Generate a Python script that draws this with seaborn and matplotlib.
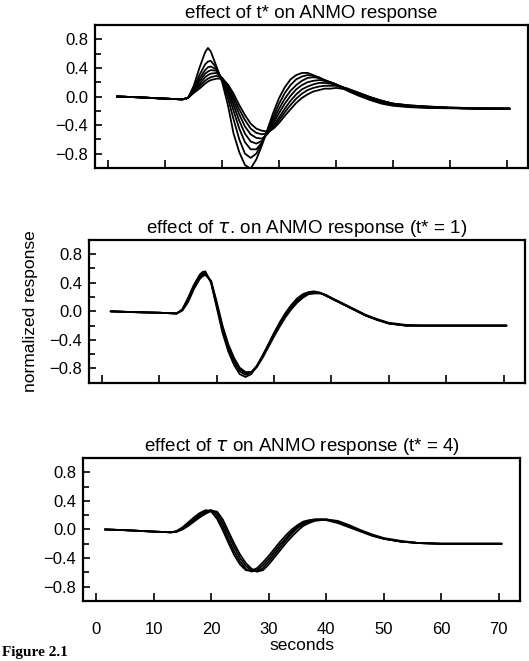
import pandas as pd
import matplotlib
matplotlib.use("Agg")
import matplotlib.pyplot as plt
import seaborn as sns
from matplotlib.ticker import MultipleLocator

# time samples (s) shared by every trace
seconds = [1.5, 5, 10, 13, 14, 15, 16, 17, 17.5, 18, 19, 20, 21, 22, 23, 24, 25, 26, 27, 28, 29, 30,
           31, 32, 33, 34, 35, 36, 37, 38, 39, 40, 42, 44, 46, 48, 50, 53, 56, 60, 65, 70.5]

# panel 1: effect of t*  (sharpest trace first)
tstar_1 = [0.00, -0.01, -0.03, -0.04, -0.02, 0.15, 0.40, 0.62, 0.68, 0.63, 0.42, 0.20, -0.12, -0.52, -0.78,
           -0.96, -1.01, -0.88, -0.68, -0.45, -0.22, -0.02, 0.13, 0.24, 0.30, 0.33, 0.33, 0.30, 0.26, 0.22,
           0.19, 0.16, 0.08, 0.01, -0.05, -0.10, -0.13, -0.15, -0.16, -0.165, -0.17, -0.17]
tstar_2 = [0.00, -0.01, -0.03, -0.04, -0.02, 0.12, 0.30, 0.45, 0.49, 0.50, 0.40, 0.22, -0.02, -0.32, -0.60,
           -0.80, -0.86, -0.80, -0.65, -0.47, -0.28, -0.10, 0.05, 0.16, 0.24, 0.28, 0.30, 0.29, 0.27, 0.23,
           0.20, 0.17, 0.09, 0.02, -0.04, -0.09, -0.12, -0.145, -0.155, -0.16, -0.17, -0.17]
tstar_3 = [0.00, -0.01, -0.03, -0.04, -0.02, 0.10, 0.25, 0.37, 0.41, 0.42, 0.38, 0.23, 0.05, -0.20, -0.45,
           -0.64, -0.74, -0.74, -0.64, -0.49, -0.33, -0.17, -0.03, 0.08, 0.16, 0.22, 0.26, 0.27, 0.26, 0.23,
           0.20, 0.17, 0.10, 0.03, -0.03, -0.08, -0.115, -0.14, -0.15, -0.16, -0.17, -0.17]
tstar_4 = [0.00, -0.01, -0.03, -0.04, -0.02, 0.08, 0.21, 0.32, 0.35, 0.37, 0.36, 0.25, 0.09, -0.12, -0.34,
           -0.52, -0.63, -0.66, -0.62, -0.51, -0.37, -0.23, -0.10, 0.01, 0.10, 0.16, 0.20, 0.22, 0.23, 0.22,
           0.20, 0.17, 0.10, 0.04, -0.02, -0.07, -0.11, -0.135, -0.15, -0.16, -0.17, -0.17]
tstar_5 = [0.00, -0.01, -0.03, -0.04, -0.02, 0.07, 0.17, 0.27, 0.30, 0.32, 0.33, 0.26, 0.12, -0.06, -0.25,
           -0.42, -0.53, -0.58, -0.59, -0.52, -0.41, -0.29, -0.17, -0.06, 0.03, 0.10, 0.14, 0.17, 0.19, 0.19,
           0.18, 0.16, 0.11, 0.05, -0.01, -0.06, -0.10, -0.13, -0.145, -0.16, -0.17, -0.17]
tstar_6 = [0.00, -0.01, -0.03, -0.04, -0.02, 0.06, 0.14, 0.22, 0.25, 0.27, 0.29, 0.26, 0.15, -0.01, -0.18,
           -0.33, -0.45, -0.51, -0.53, -0.51, -0.44, -0.33, -0.22, -0.12, -0.03, 0.04, 0.09, 0.12, 0.14, 0.15,
           0.15, 0.15, 0.11, 0.05, -0.01, -0.06, -0.10, -0.125, -0.14, -0.155, -0.165, -0.17]
tstar_7 = [0.00, -0.01, -0.03, -0.04, -0.02, 0.05, 0.11, 0.18, 0.21, 0.23, 0.25, 0.25, 0.17, 0.04, -0.12,
           -0.26, -0.38, -0.45, -0.48, -0.49, -0.45, -0.37, -0.27, -0.18, -0.09, -0.02, 0.03, 0.07, 0.09, 0.11,
           0.11, 0.12, 0.10, 0.05, -0.01, -0.06, -0.10, -0.125, -0.14, -0.155, -0.165, -0.17]

# panel 2: effect of tau, t* = 1
tau_a = [0.00, -0.01, -0.02, -0.03, 0.03, 0.19, 0.37, 0.51, 0.55, 0.56, 0.40, 0.05, -0.30, -0.56, -0.75,
         -0.88, -0.92, -0.88, -0.77, -0.62, -0.46, -0.30, -0.15, -0.02, 0.09, 0.18, 0.24, 0.27, 0.28, 0.26,
         0.22, 0.18, 0.10, 0.02, -0.06, -0.12, -0.17, -0.20, -0.20, -0.20, -0.20, -0.20]
tau_b = [0.00, -0.01, -0.02, -0.03, 0.02, 0.17, 0.35, 0.49, 0.53, 0.54, 0.41, 0.08, -0.26, -0.52, -0.71,
         -0.84, -0.89, -0.86, -0.76, -0.62, -0.47, -0.31, -0.17, -0.04, 0.07, 0.16, 0.22, 0.26, 0.27, 0.26,
         0.22, 0.18, 0.10, 0.02, -0.06, -0.12, -0.17, -0.20, -0.20, -0.20, -0.20, -0.20]
tau_c = [0.00, -0.01, -0.02, -0.03, 0.02, 0.15, 0.33, 0.47, 0.51, 0.53, 0.42, 0.10, -0.23, -0.49, -0.68,
         -0.81, -0.87, -0.86, -0.77, -0.63, -0.48, -0.33, -0.19, -0.06, 0.05, 0.14, 0.21, 0.25, 0.26, 0.26,
         0.23, 0.18, 0.10, 0.02, -0.06, -0.12, -0.17, -0.20, -0.20, -0.20, -0.20, -0.20]
tau_d = [0.00, -0.01, -0.02, -0.03, 0.01, 0.13, 0.31, 0.45, 0.49, 0.51, 0.43, 0.13, -0.20, -0.46, -0.65,
         -0.79, -0.85, -0.85, -0.78, -0.65, -0.50, -0.35, -0.21, -0.08, 0.03, 0.12, 0.19, 0.24, 0.25, 0.25,
         0.23, 0.19, 0.11, 0.03, -0.05, -0.11, -0.16, -0.19, -0.20, -0.20, -0.20, -0.20]

# panel 3: effect of tau, t* = 4
tau4_a = [0.00, -0.01, -0.03, -0.04, -0.02, 0.03, 0.10, 0.17, 0.20, 0.23, 0.27, 0.25, 0.15, -0.01, -0.19,
          -0.36, -0.49, -0.57, -0.58, -0.54, -0.46, -0.37, -0.27, -0.17, -0.08, 0.00, 0.06, 0.11, 0.13, 0.14,
          0.14, 0.13, 0.09, 0.03, -0.03, -0.09, -0.13, -0.17, -0.19, -0.20, -0.20, -0.20]
tau4_b = [0.00, -0.01, -0.03, -0.04, -0.03, 0.02, 0.08, 0.15, 0.18, 0.21, 0.26, 0.27, 0.19, 0.04, -0.14,
          -0.31, -0.45, -0.55, -0.59, -0.57, -0.50, -0.41, -0.31, -0.21, -0.12, -0.03, 0.04, 0.09, 0.12, 0.14,
          0.14, 0.14, 0.10, 0.04, -0.02, -0.08, -0.13, -0.17, -0.19, -0.20, -0.20, -0.20]
tau4_c = [0.00, -0.01, -0.03, -0.04, -0.03, 0.01, 0.06, 0.13, 0.16, 0.19, 0.24, 0.27, 0.23, 0.09, -0.08,
          -0.25, -0.40, -0.51, -0.57, -0.59, -0.54, -0.45, -0.35, -0.25, -0.15, -0.06, 0.02, 0.07, 0.11, 0.13,
          0.14, 0.14, 0.11, 0.05, -0.02, -0.08, -0.13, -0.17, -0.19, -0.20, -0.20, -0.20]
tau4_d = [0.00, -0.01, -0.03, -0.04, -0.03, 0.00, 0.05, 0.11, 0.14, 0.17, 0.22, 0.26, 0.25, 0.14, -0.03,
          -0.20, -0.35, -0.47, -0.55, -0.59, -0.57, -0.49, -0.39, -0.29, -0.19, -0.10, -0.02, 0.05, 0.09, 0.12,
          0.13, 0.14, 0.12, 0.06, -0.01, -0.07, -0.12, -0.16, -0.19, -0.20, -0.20, -0.20]


def long_table(curves):
    frames = []
    for i, vals in enumerate(curves):
        assert len(vals) == len(seconds)
        frames.append(pd.DataFrame({"seconds": seconds, "response": vals, "trace": i}))
    return pd.concat(frames, ignore_index=True)


panels = [
    (long_table([tstar_1, tstar_2, tstar_3, tstar_4, tstar_5, tstar_6, tstar_7]),
     "effect of t* on ANMO response", [0.180, 0.746, 0.818, 0.216]),
    (long_table([tau_a, tau_b, tau_c, tau_d]),
     "effect of $\\tau$. on ANMO response (t* = 1)", [0.168, 0.421, 0.824, 0.216]),
    (long_table([tau4_a, tau4_b, tau4_c, tau4_d]),
     "effect of $\\tau$ on ANMO response (t* = 4)", [0.157, 0.091, 0.826, 0.216]),
]

sns.set_style("ticks", {"axes.edgecolor": "black", "xtick.color": "black", "ytick.color": "black",
                        "text.color": "black", "axes.labelcolor": "black"})
plt.rcParams["font.family"] = ["Liberation Sans", "DejaVu Sans"]
plt.rcParams["mathtext.fontset"] = "dejavusans"

fig = plt.figure(figsize=(5.29, 6.61), dpi=100)
axes = []
for df, title, rect in panels:
    ax = fig.add_axes(rect)
    n = df["trace"].nunique()
    sns.lineplot(data=df, x="seconds", y="response", hue="trace", palette=["black"] * n,
                 linewidth=1.3, legend=False, estimator=None, ax=ax)
    ax.set_xlim(-2.3, 73.7)
    ax.set_ylim(-1.0, 1.0)
    ax.set_xticks(range(0, 71, 10))
    ax.set_yticks([-0.8, -0.4, 0.0, 0.4, 0.8])
    ax.yaxis.set_minor_locator(MultipleLocator(0.2))
    ax.tick_params(axis="both", which="both", direction="in", labelsize=12, width=1.2)
    ax.tick_params(axis="y", which="major", length=5, pad=5)
    ax.tick_params(axis="y", which="minor", length=4)
    ax.tick_params(axis="x", which="major", length=6, pad=15)
    for s in ax.spines.values():
        s.set_linewidth(1.6)
        s.set_color("black")
    ax.set_title(title, fontsize=13.5, pad=5)
    ax.set_xlabel("")
    ax.set_ylabel("")
    axes.append(ax)

for ax in axes[:2]:
    ax.tick_params(axis="x", labelbottom=False)

axes[1].set_ylabel("normalized response", fontsize=12.5, labelpad=8)
axes[2].set_xlabel("seconds", fontsize=12.5, labelpad=1)

fig.text(0.004, 0.003, "Figure 2.1", fontsize=11, fontweight="bold",
         family=["Liberation Serif", "DejaVu Serif"], va="bottom", ha="left")

fig.savefig("out.png", dpi=100)
